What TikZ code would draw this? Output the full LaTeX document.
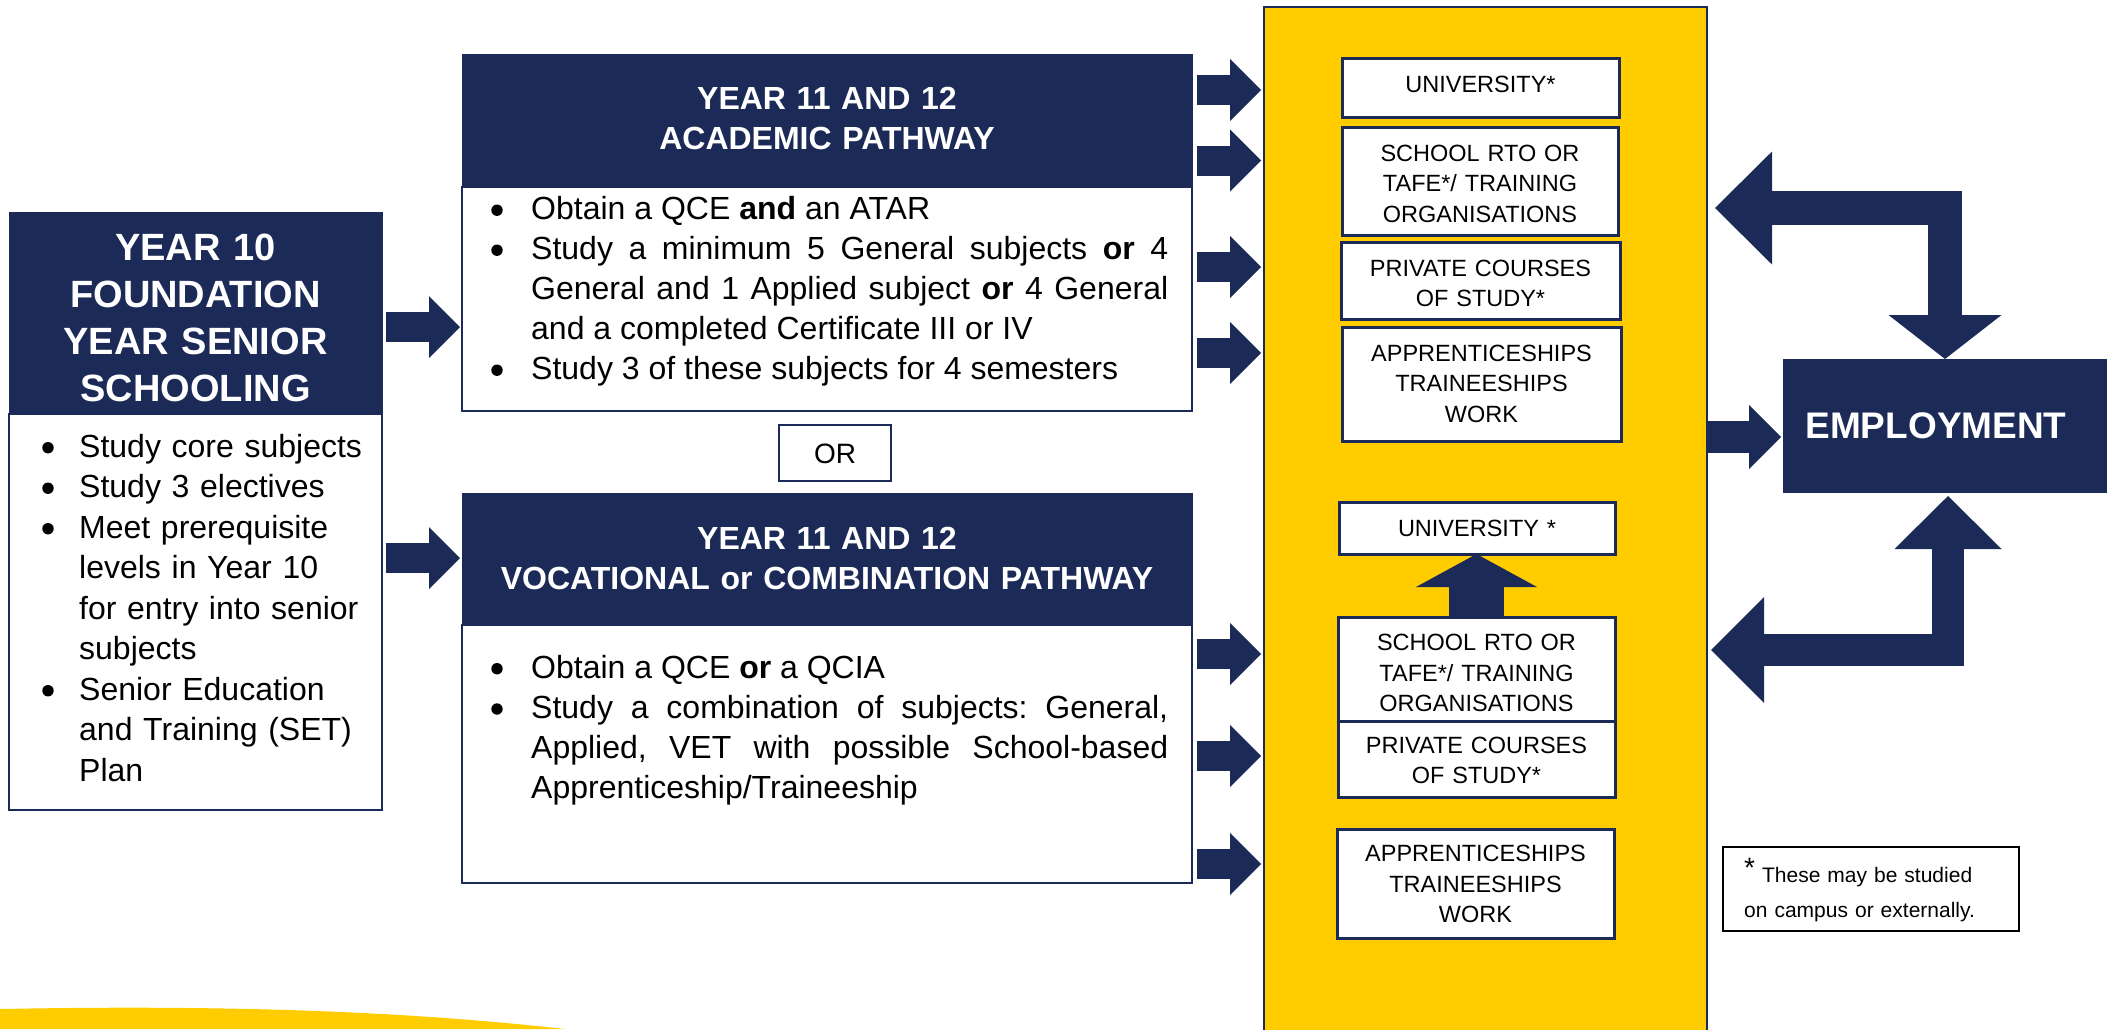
\documentclass[tikz,border=0pt]{standalone}
\usepackage{fontspec}
\setmainfont{Liberation Sans}
\usetikzlibrary{arrows.meta}
\definecolor{navy}{RGB}{28,42,88}
\definecolor{gold}{RGB}{255,204,0}
\newcommand\setfs[2]{\fontsize{#1}{#2}\selectfont}
\tolerance=10000
\hbadness=10000
\frenchspacing
\begin{document}
\begin{tikzpicture}[x=1pt,y=-1pt,
  hdr/.style={fill=navy, draw=navy, line width=1pt, inner sep=0pt, outer sep=0pt, anchor=north west},
  bodybox/.style={fill=white, draw=navy, line width=2.5pt, inner sep=0pt, outer sep=0pt, anchor=north west},
  pbox/.style={fill=white, draw=navy, line width=3pt, inner sep=0pt, outer sep=0pt, anchor=north west},
  htxt/.style={text=white, inner sep=0pt, anchor=base, align=center},
  btxt/.style={inner sep=0pt, anchor=base west},
  ptxt/.style={inner sep=0pt, anchor=base, align=center, text width=275pt, font=\setfs{23.5}{30.5}},
  barrow/.style={draw=navy, line width=30pt, -{Triangle[length=31pt,width=62pt,line width=0pt]}},
  bul/.style={fill=black}
]
\useasboundingbox (0,0) rectangle (2107,1029);

% yellow swoosh, bottom left
\fill[gold] (0,1009) .. controls (260,1004) and (430,1014) .. (565,1029) -- (0,1029) -- cycle;

% ---------- Year 10 ----------
\node[bodybox, minimum width=373pt, minimum height=396pt] (y10b) at (9,414) {};
\node[hdr, minimum width=373pt, minimum height=202pt] (y10h) at (9,212) {};
\node[htxt, text width=373pt, font=\bfseries\setfs{38}{47.3}] (y10t) at (195.5,260)
  {YEAR 10\\FOUNDATION\\YEAR SENIOR\\SCHOOLING};
\node[btxt, text width=300pt, align=left, font=\setfs{32}{40.5}] (y10l) at (79,457)
  {Study core subjects\par Study 3 electives\par Meet prerequisite\newline levels in Year 10\newline for entry into senior\newline subjects\par Senior Education\newline and Training (SET)\newline Plan};
\foreach \yy in {447.7,488.2,528.7,690.7} \fill[bul] (48,\yy) circle[radius=5.7pt];

% ---------- Academic pathway ----------
\node[bodybox, minimum width=730pt, minimum height=224pt] (acadb) at (462,187) {};
\node[hdr, minimum width=730pt, minimum height=133pt] (acadh) at (462,54) {};
\node[htxt, text width=730pt, font=\bfseries\setfs{32}{40}] (acadt) at (827,109)
  {YEAR 11 AND 12\\ACADEMIC PATHWAY};
\node[btxt, text width=637pt, align=justify, font=\setfs{32}{40}] (acadl) at (531,219.5)
  {Obtain a QCE \textbf{and} an ATAR\par Study a minimum 5 General subjects \textbf{or} 4\linebreak General and 1 Applied subject \textbf{or} 4 General\linebreak and a completed Certificate III or IV\par Study 3 of these subjects for 4 semesters};
\foreach \yy in {210.2,250.2,370.2} \fill[bul] (497,\yy) circle[radius=5.7pt];

% ---------- OR ----------
\node[draw=navy, line width=2pt, fill=white, anchor=north west, minimum width=112pt, minimum height=56pt, inner sep=0pt, outer sep=0pt] (orb) at (779,425) {};
\node[inner sep=0pt, anchor=base, font=\setfs{28}{28}] (ort) at (835,463) {OR};

% ---------- Vocational pathway ----------
\node[bodybox, minimum width=730pt, minimum height=258pt] (vocb) at (462,625) {};
\node[hdr, minimum width=730pt, minimum height=132pt] (voch) at (462,493) {};
\node[htxt, text width=730pt, font=\bfseries\setfs{32}{40}] (voct) at (827,549)
  {YEAR 11 AND 12\\VOCATIONAL or COMBINATION PATHWAY};
\node[btxt, text width=637pt, align=justify, font=\setfs{32}{40.3}] (vocl) at (531,678)
  {Obtain a QCE \textbf{or} a QCIA\par Study a combination of subjects: General,\linebreak Applied, VET with possible School-based\linebreak Apprenticeship/Traineeship};
\foreach \yy in {668.7,709.0} \fill[bul] (497,\yy) circle[radius=5.7pt];

% ---------- arrows from Year 10 ----------
\coordinate (ya1) at (386,327);  \coordinate (yb1) at (460,327);
\coordinate (ya2) at (386,558);  \coordinate (yb2) at (460,558);
\draw[barrow] (ya1) -- (yb1);
\draw[barrow] (ya2) -- (yb2);

% ---------- destinations panel ----------
\node[fill=gold, draw=navy, line width=2pt, anchor=north west, minimum width=443pt, minimum height=1030pt, inner sep=0pt, outer sep=0pt] (panel) at (1264,7) {};

\node[pbox, minimum width=277pt, minimum height=59pt]  (uni1)  at (1342,58) {};
\node[pbox, minimum width=276pt, minimum height=108pt] (rto1)  at (1342,127) {};
\node[pbox, minimum width=279pt, minimum height=77pt]  (priv1) at (1341,242) {};
\node[pbox, minimum width=279pt, minimum height=114pt] (app1)  at (1342,327) {};
\node[ptxt] (uni1t)  at (1480.5,92) {UNIVERSITY*};
\node[ptxt] (rto1t)  at (1480,161) {SCHOOL RTO OR\\TAFE*/ TRAINING\\ORGANISATIONS};
\node[ptxt] (priv1t) at (1480.5,276) {PRIVATE COURSES\\OF STUDY*};
\node[ptxt] (app1t)  at (1481.5,361) {APPRENTICESHIPS\\TRAINEESHIPS\\WORK};

\node[pbox, minimum width=276pt, minimum height=52pt]  (uni2)  at (1339,502) {};
\node[pbox, minimum width=277pt, minimum height=104pt] (rto2)  at (1338,617) {};
\node[pbox, minimum width=277pt, minimum height=76pt]  (priv2) at (1338,721) {};
\node[pbox, minimum width=277pt, minimum height=109pt] (app2)  at (1337,829) {};
\node[ptxt] (uni2t)  at (1477,536) {UNIVERSITY *};
\node[ptxt] (rto2t)  at (1476.5,650.7) {SCHOOL RTO OR\\TAFE*/ TRAINING\\ORGANISATIONS};
\node[ptxt] (priv2t) at (1476.5,753) {PRIVATE COURSES\\OF STUDY*};
\node[ptxt] (app2t)  at (1475.5,861.7) {APPRENTICESHIPS\\TRAINEESHIPS\\WORK};

\draw[draw=navy, line width=55pt, -{Triangle[length=33pt,width=121pt,line width=0pt]}]
  (rto2.north) -- (rto2.north |- uni2.south);

% arrows into the panel
\foreach \yy [count=\i] in {90,160.5,267,353,654,756,864} {
  \coordinate (ps\i) at (1197,\yy);
  \coordinate (pe\i) at (1261,\yy);
  \draw[barrow] (ps\i) -- (pe\i);
}

% ---------- employment ----------
\node[hdr, minimum width=324pt, minimum height=133pt] (emp) at (1783,359) {};
\node[htxt, font=\bfseries\setfs{37}{37}] (empt) at (1936,438) {EMPLOYMENT};

\coordinate (es) at (1708,437);
\coordinate (ee) at (1781,437);
\draw[draw=navy, line width=32pt, -{Triangle[length=32pt,width=64pt,line width=0pt]}] (es) -- (ee);

\coordinate (b1) at (1715,208);
\draw[draw=navy, line width=34pt,
  {Triangle[length=57pt,width=113pt,line width=0pt]}-{Triangle[length=44pt,width=113pt,line width=0pt]}]
  (b1) -| (emp.north);

\coordinate (b2) at (1711,650);
\coordinate (b3) at (1948,496);
\draw[draw=navy, line width=32pt,
  {Triangle[length=53pt,width=106pt,line width=0pt]}-{Triangle[length=53pt,width=107pt,line width=0pt]}]
  (b2) -| (b3);

% ---------- footnote ----------
\node[draw=black, line width=1.5pt, fill=white, anchor=north west, minimum width=296pt, minimum height=84pt, inner sep=0pt, outer sep=0pt] (note) at (1723,847) {};
\node[btxt, text width=270pt, align=left, font=\setfs{21}{35}] (notet) at (1744,882)
  {{\setfs{28}{28}\raisebox{5pt}{*}} These may be studied\\on campus or externally.};
\end{tikzpicture}
\end{document}
